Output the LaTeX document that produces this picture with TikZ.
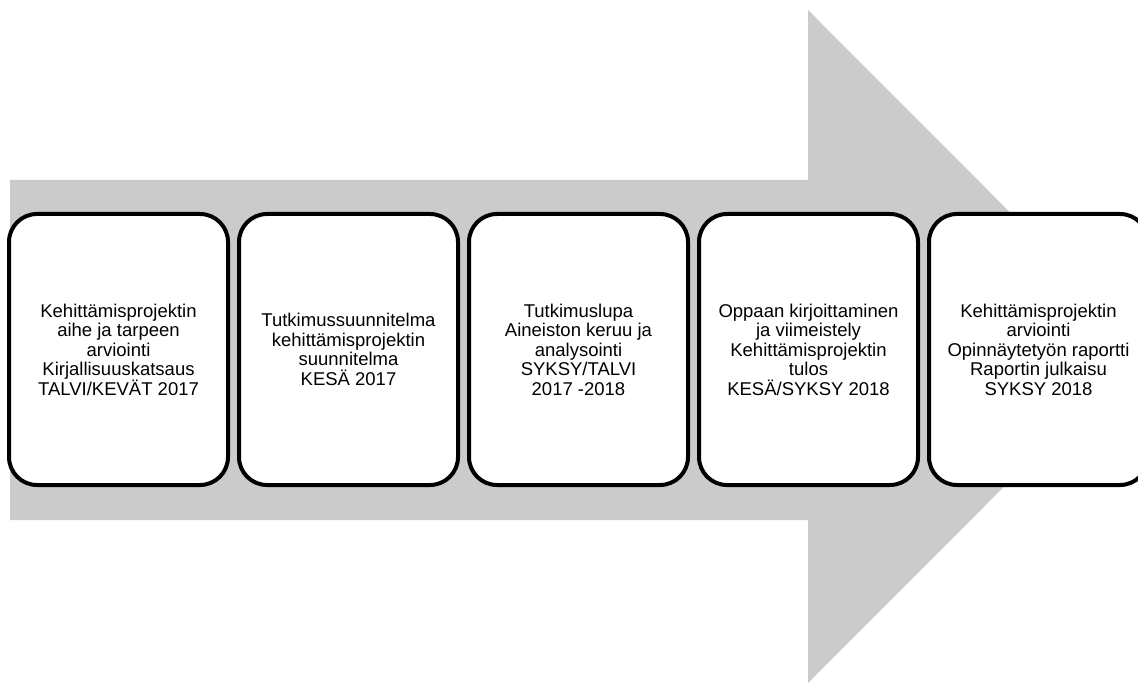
\documentclass[tikz,border=0pt]{standalone}
\usepackage{fontspec}
\setmainfont{Liberation Sans}
\definecolor{arrowgray}{RGB}{203,203,203}
\begin{document}
\begin{tikzpicture}[x=1pt,y=-1pt,
  stage/.style={draw=black, line width=4pt, fill=white, rounded corners=28pt,
    minimum width=219pt, minimum height=271pt, align=center, inner sep=0pt,
    font=\fontsize{18.5}{19.5}\selectfont}]
\useasboundingbox (0,0) rectangle (1138,684);
\clip (0,0) rectangle (1138,684);
\fill[arrowgray] (10,180) -- (808,180) -- (808,10) -- (1144,346.5) -- (808,683) -- (808,520) -- (10,520) -- cycle;
\node[stage] (s1) at (118.5,349.5) {Kehittämisprojektin\\aihe ja tarpeen\\arviointi\\Kirjallisuuskatsaus\\TALVI/KEVÄT 2017};
\node[stage] (s2) at (348.5,349.5) {Tutkimussuunnitelma\\kehittämisprojektin\\suunnitelma\\KESÄ 2017};
\node[stage] (s3) at (578.5,349.5) {Tutkimuslupa\\Aineiston keruu ja\\analysointi\\SYKSY/TALVI\\2017 -2018};
\node[stage] (s4) at (808.5,349.5) {Oppaan kirjoittaminen\\ja viimeistely\\Kehittämisprojektin\\tulos\\KESÄ/SYKSY 2018};
\node[stage] (s5) at (1038.5,349.5) {Kehittämisprojektin\\arviointi\\Opinnäytetyön raportti\\Raportin julkaisu\\SYKSY 2018};
\end{tikzpicture}
\end{document}
